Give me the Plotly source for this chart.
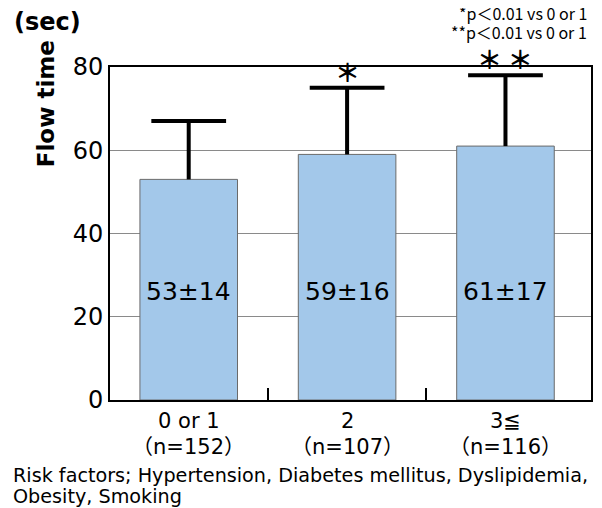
import plotly.graph_objects as go

categories = ["0 or 1", "2", "3≦"]
n_counts = [152, 107, 116]
means = [53, 59, 61]
sds = [14, 16, 17]
bar_labels = ["53±14", "59±16", "61±17"]
significance = ["", "＊", "＊ ＊"]
y_ticks = [0, 20, 40, 60, 80]

JP = "Noto Sans CJK JP"
WIDE = "DejaVu Sans, Noto Sans CJK JP"
x_idx = list(range(len(categories)))
BAR_W = 0.616
CAP_HALF = 0.236

fig = go.Figure()
fig.add_trace(go.Bar(
    x=x_idx, y=means, width=BAR_W,
    marker=dict(color="#a3c8ea", line=dict(color="#6a6a6a", width=1)),
    hoverinfo="skip",
))

# upper-only error bars (stem + cap) built from the data
ex, ey = [], []
for i, (m, s) in enumerate(zip(means, sds)):
    ex += [i, i, None, i - CAP_HALF, i + CAP_HALF, None]
    ey += [m, m + s, None, m + s, m + s, None]
fig.add_trace(go.Scatter(x=ex, y=ey, mode="lines",
                         line=dict(color="black", width=4), hoverinfo="skip"))

# labels inside bars
for i, t in enumerate(bar_labels):
    fig.add_annotation(x=i, y=26, text=t, showarrow=False,
                       font=dict(family=WIDE, size=25, color="black"))

# significance marks above error bars
for i, s in enumerate(significance):
    if s:
        fig.add_annotation(x=i, y=means[i] + sds[i], text="<b>" + s + "</b>", showarrow=False,
                           yanchor="middle", yshift=17,
                           font=dict(family=JP, size=25, color="black"))

# page geometry (the browser page adds an 8px body margin)
OFF = 8
PW, PH, L, T = 483, 333, 110, 67
W, H = 602 - OFF, 508 - OFF


def px(xp):
    return (xp - L) / PW


def py(yp):
    return (T + PH - yp) / PH


# category labels (two lines) placed on the x axis scale
for i, (c, n) in enumerate(zip(categories, n_counts)):
    fig.add_annotation(x=i, xref="x", yref="paper", y=py(421), text=c,
                       showarrow=False, yanchor="middle",
                       font=dict(family=WIDE, size=21, color="black"))
    fig.add_annotation(x=i, xref="x", yref="paper", y=py(447), text=f"（n={n}）",
                       showarrow=False, yanchor="middle",
                       font=dict(family=WIDE, size=21, color="black"))

fig.add_annotation(xref="paper", yref="paper", x=px(12), y=py(22), text="<b>(sec)</b>",
                   showarrow=False, xanchor="left", yanchor="middle",
                   font=dict(family="DejaVu Sans", size=24, color="black"))
fig.add_annotation(xref="paper", yref="paper", x=px(46), y=py(104), text="<b>Flow time</b>",
                   showarrow=False, textangle=-90, xanchor="center", yanchor="middle",
                   font=dict(family="DejaVu Sans", size=23, color="black"))
fig.add_annotation(xref="paper", yref="paper", x=px(591), y=py(13),
                   text="*p＜0.01 vs 0 or 1", showarrow=False, xanchor="right", yanchor="middle",
                   font=dict(family=JP, size=16, color="black"))
fig.add_annotation(xref="paper", yref="paper", x=px(591), y=py(32),
                   text="**p＜0.01 vs 0 or 1", showarrow=False, xanchor="right", yanchor="middle",
                   font=dict(family=JP, size=16, color="black"))
fig.add_annotation(xref="paper", yref="paper", x=px(11), y=py(475), align="left",
                   text="Risk factors; Hypertension, Diabetes mellitus, Dyslipidemia,",
                   showarrow=False, xanchor="left", yanchor="middle",
                   font=dict(family="DejaVu Sans", size=19.2, color="black"))
fig.add_annotation(xref="paper", yref="paper", x=px(11), y=py(496), align="left",
                   text="Obesity, Smoking",
                   showarrow=False, xanchor="left", yanchor="middle",
                   font=dict(family="DejaVu Sans", size=19.2, color="black"))

fig.add_shape(type="line", xref="paper", yref="paper", x0=px(601), x1=px(601),
              y0=py(0), y1=py(508), line=dict(color="black", width=2))

fig.update_layout(
    width=W, height=H,
    margin=dict(l=L - OFF, r=W - (L - OFF) - PW, t=T - OFF, b=H - (T - OFF) - PH),
    paper_bgcolor="white", plot_bgcolor="white",
    showlegend=False,
    xaxis=dict(range=[-0.497, 2.54], tickvals=x_idx, showticklabels=False,
               ticks="", showgrid=False, zeroline=False,
               showline=True, mirror=True, linecolor="black", linewidth=2,
               minor=dict(tickvals=[0.5, 1.5], ticks="inside", ticklen=12,
                          tickcolor="black", tickwidth=2, showgrid=False)),
    yaxis=dict(range=[0, 80], tickvals=y_ticks, ticks="", showgrid=True,
               gridcolor="#8a8a8a", gridwidth=1, zeroline=False,
               showline=True, mirror=True, linecolor="black", linewidth=2,
               tickfont=dict(family="DejaVu Sans", size=24, color="black")),
)

fig.write_html("out.html")
